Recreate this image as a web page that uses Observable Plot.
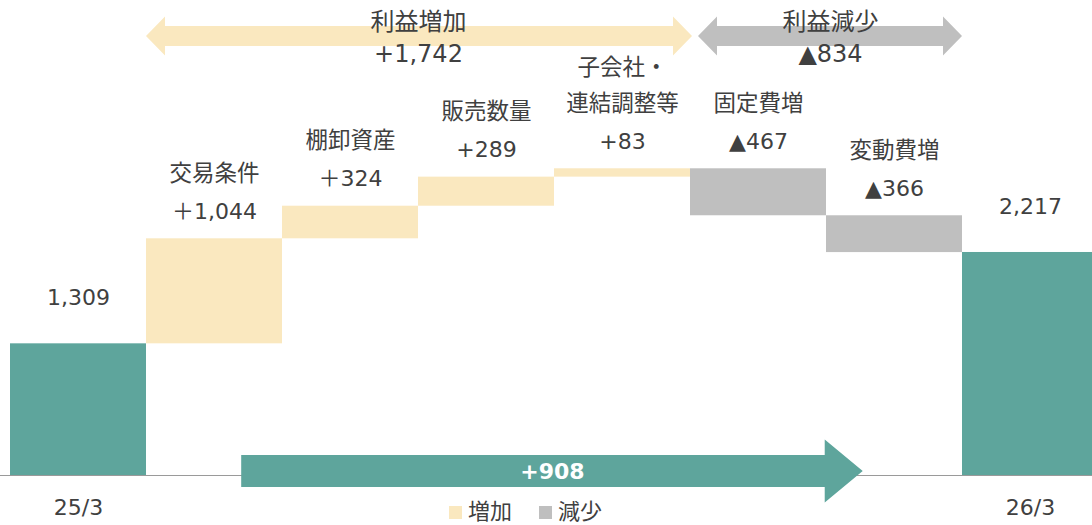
<!DOCTYPE html>
<html><head><meta charset="utf-8">
<script src="https://cdn.jsdelivr.net/npm/d3@7"></script>
<script src="https://cdn.jsdelivr.net/npm/@observablehq/plot@0.6"></script>
<style>
body{margin:0;background:#fff;}
#wrap{position:relative;width:1092px;height:525px;overflow:hidden;}
#legend{position:absolute;left:449px;top:499px;line-height:26px;margin:0;min-height:0;}
.lg-swatch{margin-right:27px !important;line-height:26px;}
.lg-swatch > svg{margin-right:6px !important;}
</style></head><body><div id="wrap"></div>
<script>
// ---- data ----
const categories = ["25/3", "交易条件", "棚卸資産", "販売数量", "子会社・\n連結調整等", "固定費増", "変動費増", "26/3"];
const kinds = ["total", "増加", "増加", "増加", "増加", "減少", "減少", "total"];
const values = [1309, 1044, 324, 289, 83, -467, -366, 2217];
const valueLabels = ["1,309", "＋1,044", "＋324", "+289", "+83", "▲467", "▲366", "2,217"];
const groupNames = ["利益増加", "利益減少"];
const groupValues = ["+1,742", "▲834"];
const netChangeLabel = "+908";
const legendKeys = ["増加", "減少"];

// ---- styling ----
const TEAL = "#5ea59c", YELLOW = "#fae8bf", GRAY = "#bfbfbf", TXT = "#404040";
const FONT = "'DejaVu Sans','Noto Sans CJK JP',sans-serif";
const YMAX = 4722, PLOT_H = 475;
const u = YMAX / PLOT_H;           // data units per pixel (vertical)
const bw = 136;                    // pixels per category band

// ---- waterfall rows ----
let level = 0;
const rows = categories.map((c, i) => {
  let y1, y2;
  if (kinds[i] === "total") { y1 = 0; y2 = values[i]; }
  else { y1 = level; y2 = level + values[i]; }
  level = y2;
  return {i, c, kind: kinds[i], y1, y2, top: Math.max(y1, y2), label: valueLabels[i]};
});
const steps = rows.filter(d => d.kind !== "total");
const totals = rows.filter(d => d.kind === "total");

// ---- arrow outlines (in scale units) ----
function dblArrow(x0, x1, cy, shaft, head, len) {
  return [
    {x: x0, lo: cy, hi: cy},
    {x: x0 + len, lo: cy - head, hi: cy + head},
    {x: x0 + len, lo: cy - shaft, hi: cy + shaft},
    {x: x1 - len, lo: cy - shaft, hi: cy + shaft},
    {x: x1 - len, lo: cy - head, hi: cy + head},
    {x: x1, lo: cy, hi: cy}
  ];
}
function rightArrow(x0, x1, cy, shaft, head, len) {
  return [
    {x: x0, lo: cy - shaft, hi: cy + shaft},
    {x: x1 - len, lo: cy - shaft, hi: cy + shaft},
    {x: x1 - len, lo: cy - head, hi: cy + head},
    {x: x1, lo: cy, hi: cy}
  ];
}
const incIdx = rows.filter(d => d.kind === "増加").map(d => d.i);
const decIdx = rows.filter(d => d.kind === "減少").map(d => d.i);
const topY = (PLOT_H - 36) * u;
const incSpan = [d3.min(incIdx), d3.max(incIdx) + 1];
const decSpan = [d3.min(decIdx) + 8 / bw, d3.max(decIdx) + 1];
const incArrow = dblArrow(incSpan[0], incSpan[1] + 2 / bw, topY, 10 * u, 19.5 * u, 19 / bw);
const decArrow = dblArrow(decSpan[0], decSpan[1], topY, 10 * u, 19.5 * u, 19 / bw);
const netY = (PLOT_H - 471) * u;
const netSpan = [1.7, 6.27];
const netArrow = rightArrow(netSpan[0], netSpan[1], netY, 16 * u, 31.5 * u, 38 / bw);
const groupLabels = [
  {x: (incSpan[0] + incSpan[1]) / 2, y: topY, text: groupNames[0] + "\n" + groupValues[0]},
  {x: (decSpan[0] + decSpan[1]) / 2, y: topY, text: groupNames[1] + "\n" + groupValues[1]}
];

const chart = Plot.plot({
  width: 1092, height: 525,
  marginTop: 0, marginBottom: 50, marginLeft: 0, marginRight: 0,
  x: {domain: [0, categories.length], range: [10, 10 + bw * categories.length], axis: null},
  y: {domain: [0, YMAX], axis: null},
  style: {fontFamily: FONT, fontSize: "22px", color: TXT, background: "#fff", overflow: "visible"},
  marks: [
    Plot.ruleY([0], {stroke: "#9a9a9a", strokeWidth: 1.2}),
    Plot.rectY(rows.filter(d => d.kind === "total"), {x1: "i", x2: d => d.i + 1, y1: "y1", y2: "y2", fill: TEAL}),
    Plot.rectY(rows.filter(d => d.kind === "増加"), {x1: "i", x2: d => d.i + 1, y1: "y1", y2: "y2", fill: YELLOW}),
    Plot.rectY(rows.filter(d => d.kind === "減少"), {x1: "i", x2: d => d.i + 1, y1: "y1", y2: "y2", fill: GRAY}),
    // value labels
    Plot.text(steps, {x: d => d.i + 0.5, y: "top", text: "label", dy: -27, fontSize: 22}),
    Plot.text(totals, {x: d => d.i + 0.5, y: "top", text: "label", dy: -46, fontSize: 22}),
    // category labels
    Plot.text(steps, {x: d => d.i + 0.5, y: "top", text: "c", dy: -58, lineAnchor: "bottom", lineHeight: 1.6, fontSize: 22.5}),
    // arrows
    Plot.areaY(incArrow, {x: "x", y1: "lo", y2: "hi", fill: YELLOW, curve: "linear"}),
    Plot.areaY(decArrow, {x: "x", y1: "lo", y2: "hi", fill: GRAY, curve: "linear"}),
    Plot.areaY(netArrow, {x: "x", y1: "lo", y2: "hi", fill: TEAL, curve: "linear"}),
    Plot.text(groupLabels, {x: "x", y: "y", text: "text", lineAnchor: "bottom", lineHeight: 1.3, dy: 25, fontSize: 24}),
    Plot.text([netChangeLabel], {x: (netSpan[0] + netSpan[1]) / 2, y: netY, text: d => d, fill: "white", fontWeight: "bold", fontSize: 22}),
    // x axis (only totals labelled)
    Plot.axisX({ticks: totals.map(d => d.i + 0.5), tickFormat: v => categories[Math.floor(v)], tickSize: 0, tickPadding: 24, fontSize: 22, anchor: "bottom"})
  ]
});
const wrap = document.getElementById("wrap");
wrap.appendChild(chart);
const legend = Plot.legend({
  color: {type: "ordinal", domain: legendKeys, range: [YELLOW, GRAY]},
  className: "lg", swatchSize: 13,
  style: {fontFamily: FONT, fontSize: "22px", color: TXT}
});
legend.id = "legend";
wrap.appendChild(legend);
</script>
</body></html>
